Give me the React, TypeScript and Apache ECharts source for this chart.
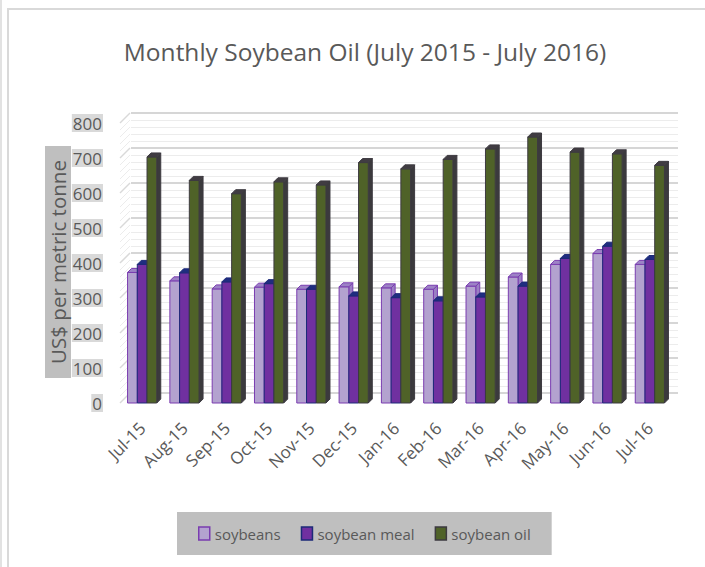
import React, { useEffect, useRef } from "react";
import * as echarts from "echarts";

const categories = ["Jul-15", "Aug-15", "Sep-15", "Oct-15", "Nov-15", "Dec-15", "Jan-16", "Feb-16", "Mar-16", "Apr-16", "May-16", "Jun-16", "Jul-16"];
const soybeans = [373, 349, 326, 331, 325, 332, 329, 325, 334, 360, 396, 427, 396];
const soybeanMeal = [396, 372, 346, 341, 325, 306, 301, 292, 303, 334, 413, 448, 410];
const soybeanOil = [703, 636, 598, 632, 623, 687, 669, 696, 726, 760, 717, 712, 679];
const seriesNames = ["soybeans", "soybean meal", "soybean oil"];

const FONT = "'Open Sans', 'Noto Sans', sans-serif";
const TEXT = "#595959";

const palette = [
  { front: "#b3a2cf", top: "#9d82c6", side: "#9a7fc3", border: "#7a3cb0" },
  { front: "#7030a0", top: "#1f2d80", side: "#23307f", border: "#1c2a78" },
  { front: "#4f6228", top: "#403c42", side: "#3b3a3d", border: "#3d3a40" },
];

function barRenderer(offsetIdx: number, c: any) {
  return (params: any, api: any) => {
    const idx = api.value(0);
    const val = api.value(1);
    const top = api.coord([idx, val]);
    const base = api.coord([idx, 0]);
    const band = api.size([1, 0])[0];
    const w = band * 0.23;
    const x = top[0] + (offsetIdx - 0.5) * w;
    const yt = top[1];
    const yb = base[1];
    const d = 4;
    return {
      type: "group",
      children: [
        {
          type: "polygon",
          shape: { points: [[x + w, yt], [x + w + d, yt - d], [x + w + d, yb - d], [x + w, yb]] },
          style: { fill: c.side, stroke: c.border, lineWidth: 1 },
        },
        {
          type: "rect",
          shape: { x, y: yt, width: w, height: yb - yt },
          style: { fill: c.front, stroke: c.border, lineWidth: 1 },
        },
        {
          type: "polygon",
          shape: { points: [[x, yt], [x + w, yt], [x + w + d, yt - d], [x + d, yt - d]] },
          style: { fill: c.top, stroke: c.border, lineWidth: 1 },
        },
      ],
    };
  };
}

function wallRenderer(params: any, api: any) {
  const cs = params.coordSys;
  const children: any[] = [];
  for (let v = 0; v <= 800; v += 20) {
    const p = api.coord([0, v]);
    children.push({
      type: "line",
      shape: { x1: cs.x - 1, y1: p[1], x2: cs.x + 9, y2: p[1] - 10 },
      style: { stroke: v % 100 === 0 ? "#d9d9d9" : "#ececec", lineWidth: v % 100 === 0 ? 1.5 : 1 },
    });
  }
  return { type: "group", children };
}

export default function App() {
  const ref = useRef<HTMLDivElement>(null);
  useEffect(() => {
    if (!ref.current) return;
    const chart = echarts.init(ref.current, undefined, { renderer: "svg" });
    const seriesData = [soybeans, soybeanMeal, soybeanOil];
    chart.setOption({
      animation: false,
      backgroundColor: "#ffffff",
      textStyle: { fontFamily: FONT },
      title: {
        text: "Monthly Soybean Oil (July 2015 - July 2016)",
        left: 360,
        textAlign: "center",
        top: 34,
        textStyle: { fontFamily: FONT, fontSize: 24.5, fontWeight: "normal", color: TEXT },
      },
      grid: [
        { left: 121, right: 34, top: 123, bottom: 164 },
        { left: 131, right: 27, top: 113, bottom: 174 },
      ],
      xAxis: [
        {
          type: "category",
          gridIndex: 0,
          data: categories,
          boundaryGap: true,
          axisLine: { show: false },
          axisTick: { show: false },
          axisLabel: { rotate: 45, margin: 22, fontSize: 17, color: TEXT, fontFamily: FONT },
        },
        { type: "value", gridIndex: 1, show: false, min: 0, max: 1 },
      ],
      yAxis: [
        {
          type: "value",
          gridIndex: 0,
          min: 0,
          max: 800,
          interval: 100,
          axisLine: { show: false },
          axisTick: { show: false },
          splitLine: { show: false },
          axisLabel: {
            fontSize: 17,
            color: TEXT,
            fontFamily: FONT,
            backgroundColor: "#d9d9d9",
            padding: [1, 1, 0, 1],
            margin: 18,
          },
        },
        {
          type: "value",
          gridIndex: 1,
          min: 0,
          max: 800,
          interval: 100,
          axisLine: { show: false },
          axisTick: { show: false },
          axisLabel: { show: false },
          splitLine: { show: true, lineStyle: { color: "#d6d6d6", width: 2 } },
          minorTick: { show: false, splitNumber: 5 },
          minorSplitLine: { show: true, lineStyle: { color: "#ececec", width: 1 } },
        },
      ],
      legend: {
        left: 177,
        top: 512,
        backgroundColor: "#bfbfbf",
        padding: [14, 21, 14, 21],
        itemWidth: 11,
        itemHeight: 13,
        itemGap: 20,
        textStyle: { fontSize: 15, color: TEXT, fontFamily: FONT },
        data: seriesNames.map((n, i) => ({
          name: n,
          icon: "rect",
          itemStyle: { color: palette[i].front, borderColor: palette[i].border, borderWidth: 1.5 },
        })),
      },
      graphic: [
        {
          type: "rect",
          shape: { x: 8, y: 9, width: 740, height: 640 },
          style: { fill: "none", stroke: "#d9d9d9", lineWidth: 2 },
          silent: true,
        },
        {
          type: "line",
          shape: { x1: 1, y1: 0, x2: 1, y2: 567 },
          style: { stroke: "#d9d9d9", lineWidth: 1.5 },
          silent: true,
        },
        {
          type: "text",
          x: 58,
          y: 262,
          rotation: Math.PI / 2,
          style: {
            text: "US$ per metric tonne",
            fontSize: 20.5,
            fontFamily: FONT,
            fill: TEXT,
            align: "center",
            verticalAlign: "middle",
            backgroundColor: "#bfbfbf",
            padding: [3, 14, 2, 14],
          },
        },
      ],
      series: [
        {
          type: "custom",
          name: "_wall",
          xAxisIndex: 0,
          yAxisIndex: 0,
          silent: true,
          renderItem: wallRenderer,
          data: [[0, 0]],
          encode: { x: 0, y: 1 },
          z: 1,
        },
        ...seriesNames.map((n, i) => ({
          type: "custom",
          name: n,
          xAxisIndex: 0,
          yAxisIndex: 0,
          itemStyle: { color: palette[i].front, borderColor: palette[i].border },
          renderItem: barRenderer(i - 1, palette[i]),
          encode: { x: 0, y: 1 },
          data: seriesData[i].map((v, k) => [k, v]),
          z: 3 + i,
        })),
      ],
    });
    return () => chart.dispose();
  }, []);
  return (
    <div
      ref={ref}
      style={{ position: "fixed", left: 0, top: 0, width: 705, height: 567 }}
    />
  );
}
